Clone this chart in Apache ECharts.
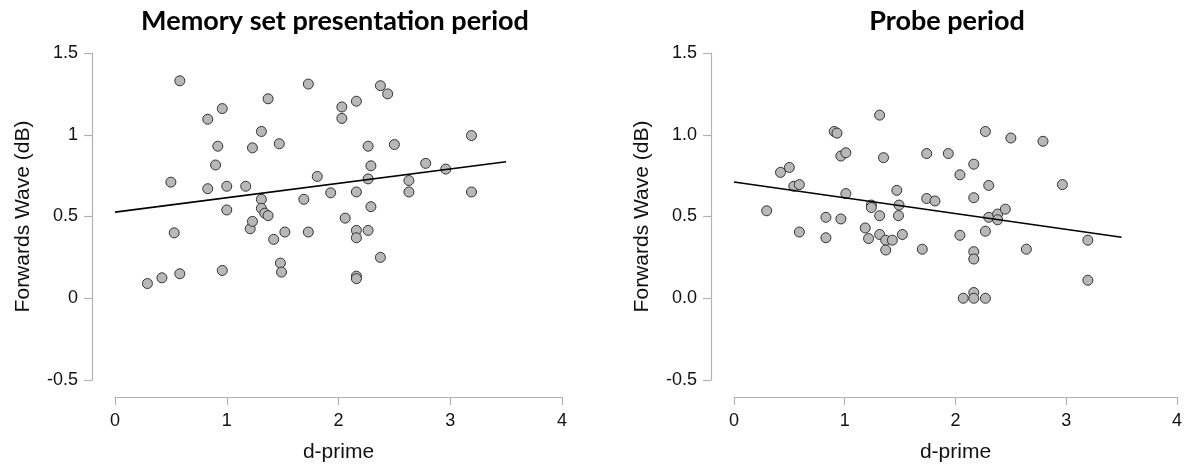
<!DOCTYPE html>
<html>
<head>
<meta charset="utf-8">
<script src="https://cdn.jsdelivr.net/npm/echarts@6/dist/echarts.min.js"></script>
<style>
html,body{margin:0;padding:0;background:#fff;}
#chart{width:1185px;height:468px;}
</style>
</head>
<body>
<div id="chart"></div>
<script>
// ---- Data ----
const titles = ['Memory set presentation period', 'Probe period'];
const xAxisName = 'd-prime';
const yAxisName = 'Forwards Wave (dB)';
const xTicks = ['0', '1', '2', '3', '4'];
const leftYTicks = ['-0.5', '0', '0.5', '1', '1.5'];
const rightYTicks = ['-0.5', '0.0', '0.5', '1.0', '1.5'];

const memoryPoints = [
  [0.29,0.09],[0.42,0.125],[0.58,0.15],[0.53,0.40],[0.50,0.71],[0.58,1.33],
  [0.83,1.095],[0.83,0.67],[0.90,0.815],[0.92,0.93],[0.96,1.16],[0.96,0.17],
  [1.00,0.685],[1.00,0.54],[1.17,0.685],[1.21,0.425],[1.23,0.47],[1.23,0.92],
  [1.31,1.02],[1.31,0.605],[1.31,0.55],[1.34,0.52],[1.37,0.505],[1.37,1.22],
  [1.42,0.36],[1.47,0.945],[1.48,0.215],[1.49,0.16],[1.52,0.405],[1.69,0.605],
  [1.73,1.31],[1.73,0.405],[1.81,0.745],[1.93,0.645],[2.03,1.17],[2.03,1.10],
  [2.06,0.49],[2.16,1.205],[2.16,0.65],[2.16,0.415],[2.16,0.37],[2.16,0.135],
  [2.16,0.12],[2.265,0.93],[2.265,0.73],[2.265,0.415],[2.29,0.81],[2.29,0.56],
  [2.375,1.30],[2.375,0.25],[2.44,1.25],[2.50,0.94],[2.63,0.72],[2.63,0.65],
  [2.78,0.825],[2.96,0.79],[3.19,0.995],[3.19,0.65]
];
const memoryFit = [[0,0.527],[3.5,0.835]];

const probePoints = [
  [0.295,0.535],[0.42,0.77],[0.50,0.80],[0.54,0.685],[0.59,0.695],[0.59,0.405],
  [0.83,0.495],[0.83,0.37],[0.905,1.02],[0.93,1.01],[0.965,0.87],[0.965,0.485],
  [1.01,0.89],[1.01,0.64],[1.185,0.43],[1.215,0.365],[1.24,0.57],[1.24,0.555],
  [1.315,1.12],[1.315,0.505],[1.315,0.39],[1.35,0.86],[1.37,0.355],[1.37,0.295],
  [1.43,0.355],[1.47,0.66],[1.485,0.505],[1.49,0.57],[1.52,0.39],[1.70,0.30],
  [1.74,0.885],[1.74,0.61],[1.815,0.595],[1.935,0.885],[2.04,0.755],[2.04,0.385],
  [2.07,0.0],[2.165,0.82],[2.165,0.615],[2.165,0.285],[2.165,0.24],[2.165,0.035],
  [2.165,0.0],[2.27,1.02],[2.27,0.41],[2.27,0.0],[2.30,0.69],[2.30,0.495],
  [2.38,0.515],[2.38,0.48],[2.45,0.545],[2.50,0.98],[2.64,0.30],[2.79,0.96],
  [2.965,0.695],[3.195,0.355],[3.195,0.11]
];
const probeFit = [[0,0.711],[3.5,0.373]];

// ---- Chart ----
const chart = echarts.init(document.getElementById('chart'), null, {renderer:'canvas'});
const axisGray = '#b3b3b3';
const textColor = '#111';
const font = '"Liberation Sans", Arial, sans-serif';

function xAxisCfg(gi){
  return {
    gridIndex: gi, type:'value', min:0, max:4, interval:1,
    offset:17,
    name:xAxisName, nameLocation:'middle', nameGap:45,
    nameTextStyle:{fontSize:21, color:textColor, fontFamily:font},
    axisLine:{show:true, onZero:false, lineStyle:{color:axisGray, width:1.2}},
    axisTick:{show:true, length:8, lineStyle:{color:axisGray, width:1.2}},
    axisLabel:{fontSize:18, color:textColor, fontFamily:font, margin:15,
      formatter:(v)=>xTicks[Math.round(v)]},
    splitLine:{show:false}
  };
}
function yAxisCfg(gi, ticks){
  return {
    gridIndex: gi, type:'value', min:-0.5, max:1.5, interval:0.5,
    offset:23,
    name:yAxisName, nameLocation:'middle', nameGap:58, nameRotate:90,
    nameTextStyle:{fontSize:21, color:textColor, fontFamily:font},
    axisLine:{show:true, onZero:false, lineStyle:{color:axisGray, width:1.2}},
    axisTick:{show:true, length:8, lineStyle:{color:axisGray, width:1.2}},
    axisLabel:{fontSize:18, color:textColor, fontFamily:font, margin:14,
      formatter:(v)=>ticks[Math.round((v+0.5)/0.5)]},
    splitLine:{show:false}
  };
}
function scatter(gi, data){
  return {type:'scatter', xAxisIndex:gi, yAxisIndex:gi, data:data,
    symbol:'circle', symbolSize:10,
    itemStyle:{color:'#b8b8b8', borderColor:'#333', borderWidth:1, opacity:1},
    emphasis:{disabled:true}, silent:true, z:3};
}
function fit(gi, data){
  return {type:'line', xAxisIndex:gi, yAxisIndex:gi, data:data,
    symbol:'none', lineStyle:{color:'#000', width:1.6}, silent:true, z:4};
}

chart.setOption({
  animation:false,
  backgroundColor:'#fff',
  title:[
    {text:titles[0], left:330, top:3, textAlign:'center',
      textStyle:{fontSize:27, fontWeight:'bold', color:'#000', fontFamily:'Lato, sans-serif'}},
    {text:titles[1], left:942, top:3, textAlign:'center',
      textStyle:{fontSize:27, fontWeight:'bold', color:'#000', fontFamily:'Lato, sans-serif'}}
  ],
  grid:[
    {left:115, top:53, width:447, height:327},
    {left:734, top:53, width:443, height:327}
  ],
  xAxis:[xAxisCfg(0), xAxisCfg(1)],
  yAxis:[yAxisCfg(0, leftYTicks), yAxisCfg(1, rightYTicks)],
  series:[
    scatter(0, memoryPoints), fit(0, memoryFit),
    scatter(1, probePoints), fit(1, probeFit)
  ]
});
</script>
</body>
</html>
